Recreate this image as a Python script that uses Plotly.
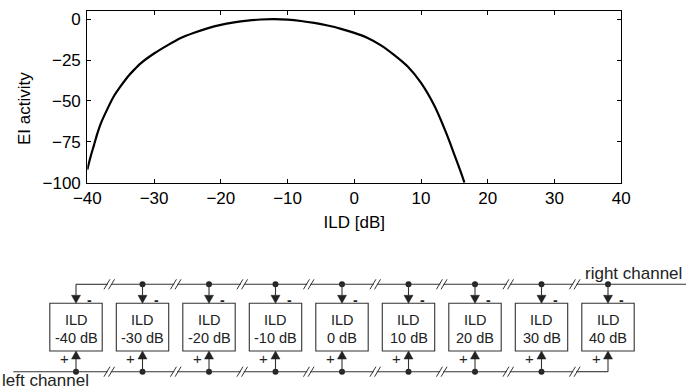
import plotly.graph_objects as go

# ---- EI activity as a function of interaural level difference ----
ild_db = [-40, -39.5, -39, -38.5, -38, -37, -36, -35, -34, -33, -32, -30, -28,
          -26, -24, -22, -20, -18, -16, -14, -12, -10, -8, -6, -4, -2, 0, 2, 4,
          6, 8, 10, 12, 14, 15, 16, 16.5]
ei_activity = [-92, -84, -77, -70, -64, -55, -47, -41, -35.5, -31, -27, -21, -16,
               -11.5, -8.3, -5.6, -3.5, -2, -0.9, -0.2, 0, -0.3, -1.1, -2.3, -3.9,
               -5.9, -8.4, -11.5, -16, -22, -29, -39, -53, -72, -83, -94, -100]

x_ticks = [-40, -30, -20, -10, 0, 10, 20, 30, 40]
y_ticks = [0, -25, -50, -75, -100]

# ---- EI units of the network schematic, one per preferred ILD ----
unit_ilds = [-40, -30, -20, -10, 0, 10, 20, 30, 40]
unit_labels = [f"{v} dB" for v in unit_ilds]
channel_names = ["right channel", "left channel"]

W, H = 686, 390
FONT = "Liberation Sans, Arial, Helvetica, sans-serif"
INK = "#222222"
WIRE = "#333333"

# schematic x axis is in dB, spanning the full figure width
SCH_X = [-51.43, 51.73]
px_per_db = W / (SCH_X[1] - SCH_X[0])


def dx(px):
    """horizontal pixel distance -> schematic dB units"""
    return px / px_per_db


def sx(px):
    """horizontal pixel position -> schematic dB coordinate"""
    return SCH_X[0] + px / px_per_db


# vertical layout of the schematic (schematic y axis is pixels from top)
Y_RIGHT, Y_LEFT = 284.3, 371.7
BOX_TOP, BOX_BOT = 303.3, 351.0
BOX_HALF = 26.2
HEAD_LEN, HEAD_HALF = 8.0, 4.5

fig = go.Figure()

fig.add_trace(go.Scatter(x=ild_db, y=ei_activity, mode="lines",
                         line=dict(color="black", width=2.2, shape="spline", smoothing=0.6),
                         showlegend=False, hoverinfo="skip"))

shapes = []
annotations = []


def line(x0, y0, x1, y1, width=1.1, color=WIRE):
    shapes.append(dict(type="line", xref="x2", yref="y2", x0=x0, y0=y0,
                       x1=x1, y1=y1, line=dict(color=color, width=width)))


# wires with "//" break marks between neighbouring units
breaks = [(a + b) / 2 for a, b in zip(unit_ilds[:-1], unit_ilds[1:])]
gap = dx(3)
for y_wire, start, end in [(Y_RIGHT, unit_ilds[0], sx(W)),
                           (Y_LEFT, sx(13.3), unit_ilds[-1])]:
    xs = [start]
    for b in breaks:
        xs += [b - gap / 2, b + gap / 2]
    xs.append(end)
    for i in range(0, len(xs), 2):
        line(xs[i], y_wire, xs[i + 1], y_wire)
    for b in breaks:
        for off in (-2.3, 2.3):
            c = b + dx(off)
            line(c - dx(3), y_wire + 5, c + dx(3), y_wire - 5, width=1)

# units: box, inhibitory input from the right channel, excitatory from the left
for v, lab in zip(unit_ilds, unit_labels):
    shapes.append(dict(type="rect", xref="x2", yref="y2",
                       x0=v - dx(BOX_HALF), x1=v + dx(BOX_HALF),
                       y0=BOX_TOP, y1=BOX_BOT,
                       line=dict(color=WIRE, width=1.1), fillcolor="white"))
    line(v, Y_RIGHT, v, BOX_TOP - HEAD_LEN)
    line(v, Y_LEFT, v, BOX_BOT + HEAD_LEN)
    hw = dx(HEAD_HALF)
    shapes.append(dict(type="path", xref="x2", yref="y2",
                       path=f"M {v - hw},{BOX_TOP - HEAD_LEN} L {v + hw},{BOX_TOP - HEAD_LEN} L {v},{BOX_TOP} Z",
                       fillcolor=INK, line=dict(color=INK, width=0.5)))
    shapes.append(dict(type="path", xref="x2", yref="y2",
                       path=f"M {v - hw},{BOX_BOT + HEAD_LEN} L {v + hw},{BOX_BOT + HEAD_LEN} L {v},{BOX_BOT} Z",
                       fillcolor=INK, line=dict(color=INK, width=0.5)))
    annotations.append(dict(xref="x2", yref="y2", x=v, y=319.5, text="ILD",
                            showarrow=False, font=dict(size=14.5, color=INK)))
    annotations.append(dict(xref="x2", yref="y2", x=v, y=337.5, text=lab,
                            showarrow=False, font=dict(size=14.5, color=INK)))
    annotations.append(dict(xref="x2", yref="y2", x=v + dx(13.5), y=299.5, text="<b>-</b>",
                            showarrow=False, font=dict(size=14, color=INK)))
    annotations.append(dict(xref="x2", yref="y2", x=v - dx(12), y=358.5, text="+",
                            showarrow=False, font=dict(size=15, color=INK)))

# junction dots where a unit taps a channel
fig.add_trace(go.Scatter(
    x=unit_ilds[1:] + unit_ilds[:-1],
    y=[Y_RIGHT] * (len(unit_ilds) - 1) + [Y_LEFT] * (len(unit_ilds) - 1),
    xaxis="x2", yaxis="y2", mode="markers",
    marker=dict(size=6, color=INK), showlegend=False, hoverinfo="skip"))

annotations.append(dict(xref="x2", yref="y2", x=sx(633), y=273, text=channel_names[0],
                        showarrow=False, font=dict(size=17, color=INK)))
annotations.append(dict(xref="x2", yref="y2", x=sx(45.5), y=380.5, text=channel_names[1],
                        showarrow=False, font=dict(size=17, color=INK)))

# y-axis title, set slightly below the middle of the plot frame
annotations.append(dict(xref="x2", yref="y2", x=sx(24), y=109, text="EI activity",
                        textangle=-90, showarrow=False, font=dict(size=17, color="black")))

axis_common = dict(showline=True, linecolor="black", linewidth=1.2, mirror="ticks",
                   ticks="inside", ticklen=4, tickwidth=1, tickcolor="black",
                   showgrid=False, zeroline=False, automargin=False,
                   tickfont=dict(size=17, color="black"))

fig.update_layout(
    width=W, height=H,
    margin=dict(l=0, r=0, t=0, b=0, autoexpand=False),
    paper_bgcolor="white", plot_bgcolor="rgba(0,0,0,0)",
    font=dict(family=FONT, size=17, color="black"),
    xaxis=dict(domain=[87.3 / W, 621.3 / W], range=[-40, 40], tickvals=x_ticks,
               title=dict(text="ILD [dB]", standoff=8, font=dict(size=17)),
               anchor="y", **axis_common),
    yaxis=dict(domain=[1 - 182.7 / H, 1 - 11 / H], range=[-100, 5], tickvals=y_ticks,
               ticklabelstandoff=2, anchor="x", **axis_common),
    xaxis2=dict(domain=[0, 1], range=SCH_X, visible=False, anchor="y2", automargin=False),
    yaxis2=dict(domain=[0, 1], range=[H, 0], visible=False, anchor="x2", automargin=False),
    shapes=shapes,
    annotations=annotations,
)

fig.write_html("out.html")
